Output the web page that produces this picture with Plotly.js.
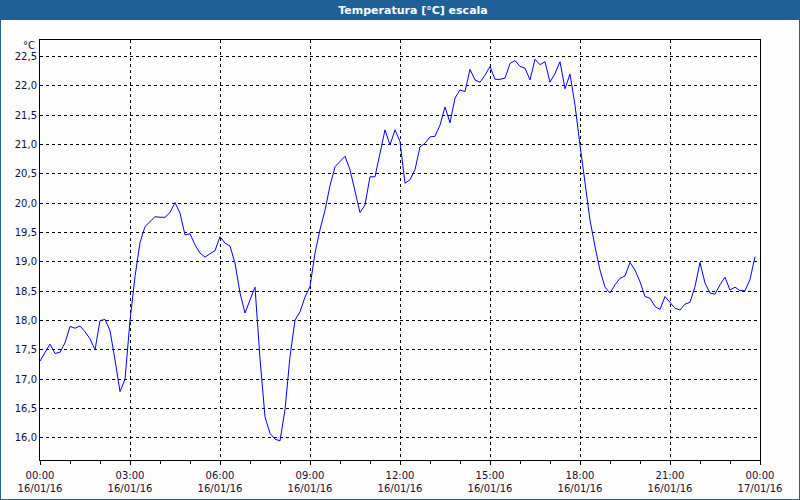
<!DOCTYPE html>
<html>
<head>
<meta charset="utf-8">
<script src="https://cdn.plot.ly/plotly-3.0.1.min.js"></script>
<style>html,body{margin:0;padding:0;background:#fdfdfd;}#chart{width:800px;height:500px;}</style>
</head>
<body>
<div id="chart"></div>
<script>
var dateStr = "2016-01-16";
var times = ["00:00","00:20","00:30","00:40","00:50","01:00","01:10","01:20","01:30","01:40","01:50",
"02:00","02:10","02:20","02:30","02:40","02:50","03:00","03:10","03:20","03:30","03:40","03:50",
"04:00","04:10","04:20","04:30","04:40","04:50","05:00","05:10","05:20","05:30","05:40","05:50",
"06:00","06:10","06:20","06:30","06:40","06:50","07:00","07:10","07:20","07:30","07:40","07:50",
"08:00","08:10","08:20","08:30","08:40","08:50","09:00","09:10","09:20","09:30","09:40","09:50",
"10:00","10:10","10:20","10:30","10:40","10:50","11:00","11:10","11:20","11:30","11:40","11:50",
"12:00","12:10","12:20","12:30","12:40","12:50","13:00","13:10","13:20","13:30","13:40","13:50",
"14:00","14:10","14:20","14:30","14:40","14:50","15:00","15:10","15:20","15:30","15:40","15:50",
"16:00","16:10","16:20","16:30","16:40","16:50","17:00","17:10","17:20","17:30","17:40","17:50",
"18:00","18:10","18:20","18:30","18:40","18:50","19:00","19:10","19:20","19:30","19:40","19:50",
"20:00","20:10","20:20","20:30","20:40","20:50","21:00","21:10","21:20","21:30","21:40","21:50",
"22:00","22:10","22:20","22:30","22:40","22:50","23:00","23:10","23:20","23:30","23:40","23:50"];
var temperatures = [17.31,17.60,17.44,17.46,17.62,17.90,17.87,17.91,17.81,17.69,17.50,
18.00,18.02,17.83,17.33,16.79,17.00,18.00,18.75,19.33,19.60,19.69,19.77,
19.76,19.76,19.84,20.01,19.83,19.46,19.48,19.29,19.15,19.08,19.14,19.19,
19.43,19.32,19.27,18.98,18.47,18.13,18.35,18.57,17.35,16.36,16.08,15.98,
15.95,16.48,17.39,18.01,18.15,18.40,18.58,19.15,19.55,19.88,20.30,20.62,
20.71,20.80,20.57,20.23,19.84,19.97,20.45,20.45,20.88,21.25,20.99,21.25,
21.05,20.34,20.40,20.57,20.96,21.02,21.13,21.14,21.33,21.64,21.37,21.79,
21.93,21.90,22.28,22.10,22.06,22.18,22.33,22.11,22.11,22.13,22.38,22.43,
22.33,22.30,22.10,22.45,22.36,22.41,22.06,22.21,22.41,21.95,22.20,21.67,
20.99,20.31,19.71,19.26,18.86,18.57,18.47,18.61,18.72,18.76,18.99,18.86,
18.66,18.41,18.38,18.24,18.19,18.41,18.30,18.21,18.18,18.28,18.31,18.58,
18.99,18.64,18.47,18.45,18.61,18.74,18.52,18.57,18.51,18.51,18.70,19.09];
var xTickVals = ["2016-01-16 00:00","2016-01-16 03:00","2016-01-16 06:00","2016-01-16 09:00","2016-01-16 12:00","2016-01-16 15:00","2016-01-16 18:00","2016-01-16 21:00","2016-01-17 00:00"];
var xTickText = ["00:00<br>16/01/16","03:00<br>16/01/16","06:00<br>16/01/16","09:00<br>16/01/16","12:00<br>16/01/16","15:00<br>16/01/16","18:00<br>16/01/16","21:00<br>16/01/16","00:00<br>17/01/16"];
var yTickVals = [16.0,16.5,17.0,17.5,18.0,18.5,19.0,19.5,20.0,20.5,21.0,21.5,22.0,22.5];
var titleText = "Temperatura [°C] escala";
var unitText = "°C";

var xs = times.map(function(t){ return dateStr + " " + t; });
var fontFam = "DejaVu Sans, Verdana, sans-serif";
var txtColor = "#10103c";
var barColor = "#1f6096";

var trace = {x: xs, y: temperatures, type: "scatter", mode: "lines",
  line: {color: "#0000ff", width: 1}, hoverinfo: "skip"};

var L = 40, R = 40, T = 40, B = 40, W = 800, H = 500;
var pw = W - L - R, ph = H - T - B;
function px(x){ return (x - L) / pw; }
function py(y){ return (H - B - y) / ph; }

var layout = {
  width: W, height: H,
  margin: {l: L, r: R, t: T, b: B, pad: 0},
  paper_bgcolor: "#fdfdfd", plot_bgcolor: "#fdfdfd",
  separators: ",.",
  showlegend: false,
  font: {family: fontFam, size: 10, color: txtColor},
  title: {text: "<b>" + titleText + "</b>", font: {family: fontFam, size: 11, color: "#ffffff"},
    x: 413 / W, xref: "container", xanchor: "center", y: 1 - 10 / H, yref: "container", yanchor: "middle"},
  xaxis: {type: "date", range: ["2016-01-16 00:00", "2016-01-17 00:00"],
    tickmode: "array", tickvals: xTickVals, ticktext: xTickText,
    ticks: "outside", ticklen: 4, tickcolor: "#000", tickwidth: 1, ticklabelstandoff: 2,
    minor: {dtick: 3600000, ticks: "outside", ticklen: 3, tickcolor: "#000", showgrid: false},
    showgrid: true, gridcolor: "#000", gridwidth: 1, griddash: "3px,3px",
    showline: true, linecolor: "#000", linewidth: 1, mirror: true,
    zeroline: false, fixedrange: true, tickfont: {family: fontFam, size: 10, color: txtColor}},
  yaxis: {range: [15.625, 22.78], tickmode: "array", tickvals: yTickVals, tickformat: ".1f",
    ticks: "", showgrid: true, gridcolor: "#000", gridwidth: 1, griddash: "3px,3px",
    showline: true, linecolor: "#000", linewidth: 1, mirror: true,
    zeroline: false, fixedrange: true, tickfont: {family: fontFam, size: 10, color: txtColor}},
  shapes: [
    {type: "rect", xref: "paper", yref: "paper", x0: px(0), x1: px(W), y0: py(20), y1: py(0),
      fillcolor: barColor, line: {width: 0}, layer: "below"},
    {type: "rect", xref: "paper", yref: "paper", x0: px(0), x1: px(W), y0: py(H), y1: py(0),
      fillcolor: "rgba(0,0,0,0)", line: {color: barColor, width: 2}, layer: "above"}
  ],
  annotations: [
    {text: unitText, xref: "paper", yref: "paper", x: px(37), y: py(46), xanchor: "right", yanchor: "middle",
      showarrow: false, font: {family: fontFam, size: 10, color: txtColor}}
  ]
};
Plotly.newPlot("chart", [trace], layout, {staticPlot: true, displayModeBar: false});
</script>
</body>
</html>
